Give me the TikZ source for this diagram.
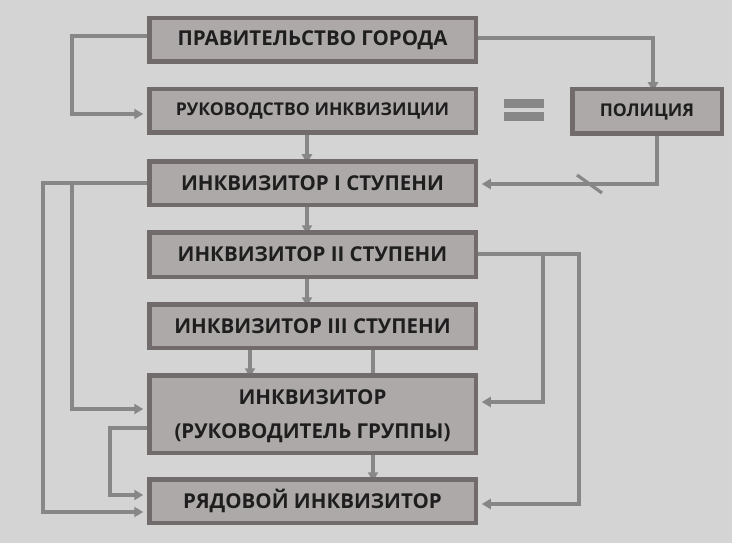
\documentclass[tikz,border=0pt]{standalone}
\usepackage{fontspec}
\setmainfont{Open Sans}
\usetikzlibrary{arrows.meta,calc}
\definecolor{bgc}{HTML}{D4D4D4}
\definecolor{boxfill}{HTML}{ADA9A8}
\definecolor{boxline}{HTML}{716C6B}
\definecolor{conn}{HTML}{878787}
\definecolor{txt}{HTML}{1E1E1E}
\pgfdeclarelayer{back}
\pgfdeclarelayer{bg}
\pgfsetlayers{back,bg,main}
\begin{document}
\begin{tikzpicture}[x=1pt,y=-1pt,
  box/.style={draw=boxline,fill=boxfill,line width=4.5pt,inner sep=0pt,outer sep=0pt,
    minimum width=326.5pt,minimum height=43.5pt,align=center,
    font=\fontsize{20.5}{34}\selectfont\bfseries,text=txt},
  smalltext/.style={font=\fontsize{17.6}{24}\selectfont\bfseries},
  conline/.style={draw=conn,line width=3.2pt},
  arr/.style={conline,-{Triangle[length=9pt,width=10pt]}}
]
\begin{pgfonlayer}{back}
\fill[bgc] (0,0) rectangle (732,543);
\end{pgfonlayer}
\useasboundingbox (0,0) rectangle (732,543);

\node[box] (b1) at (312.5,40) {ПРАВИТЕЛЬСТВО ГОРОДА};
\node[box,smalltext] (b2) at (312.5,111) {РУКОВОДСТВО ИНКВИЗИЦИИ};
\node[box,smalltext,minimum width=149.5pt,minimum height=44.5pt] (pol) at (647,111.5) {ПОЛИЦИЯ};
\node[box] (b3) at (312.5,183) {ИНКВИЗИТОР I СТУПЕНИ};
\node[box,minimum height=44.5pt] (b4) at (312.5,254.5) {ИНКВИЗИТОР II СТУПЕНИ};
\node[box] (b5) at (312.5,326) {ИНКВИЗИТОР III СТУПЕНИ};
\node[box,minimum height=77.5pt] (b6) at (312.5,414) {\rule{0pt}{20pt}ИНКВИЗИТОР\\(РУКОВОДИТЕЛЬ ГРУППЫ)};
\node[box] (b7) at (312.5,501) {РЯДОВОЙ ИНКВИЗИТОР};

\fill[conn] (504,99) rectangle (544,108);
\fill[conn] (504,112) rectangle (544,121);

\begin{pgfonlayer}{bg}
\coordinate (c1a) at (72,36);
\coordinate (c1b) at (72,114);
\draw[arr,shorten >=6pt] (b1.west |- c1a) -- (c1a) -- (c1b) -- (b2.west |- c1b);

\coordinate (c2a) at (653,38);
\draw[arr,shorten >=-2pt] (b1.east |- c2a) -- (c2a) -- (pol.north -| c2a);

\draw[arr,shorten >=-2pt] (b2.south -| 307,0) -- (b3.north -| 307,0);

\coordinate (c4a) at (657,184);
\draw[arr,shorten >=6pt] (pol.south -| c4a) -- (c4a) -- (b3.east |- c4a);
\coordinate (s1) at (577,175);
\coordinate (s2) at (602,193);
\draw[conline] (s1) -- (s2);

\coordinate (c5a) at (43,183);
\coordinate (c5b) at (43,512);
\coordinate (c5c) at (72,183);
\coordinate (c5d) at (72,409);
\draw[arr,shorten >=6pt] (b3.west |- c5a) -- (c5a) -- (c5b) -- (b7.west |- c5b);
\draw[arr,shorten >=6pt] (c5c) -- (c5d) -- (b6.west |- c5d);

\draw[arr,shorten >=-2pt] (b3.south -| 307,0) -- (b4.north -| 307,0);
\draw[arr,shorten >=-2pt] (b4.south -| 307,0) -- (b5.north -| 307,0);
\draw[arr,shorten >=-2pt] (b5.south -| 250,0) -- (b6.north -| 250,0);
\draw[conline] (b5.south -| 373,0) -- (b6.north -| 373,0);
\draw[arr,shorten >=-2pt] (b6.south -| 373,0) -- (b7.north -| 373,0);

\coordinate (c8a) at (579,254);
\coordinate (c8b) at (579,504);
\coordinate (c8c) at (543,254);
\coordinate (c8d) at (543,402);
\draw[arr,shorten >=6pt] (b4.east |- c8a) -- (c8a) -- (c8b) -- (b7.east |- c8b);
\draw[arr,shorten >=6pt] (c8c) -- (c8d) -- (b6.east |- c8d);

\coordinate (c9a) at (110,428);
\coordinate (c9b) at (110,495);
\draw[arr,shorten >=6pt] (b6.west |- c9a) -- (c9a) -- (c9b) -- (b7.west |- c9b);
\end{pgfonlayer}
\end{tikzpicture}
\end{document}
